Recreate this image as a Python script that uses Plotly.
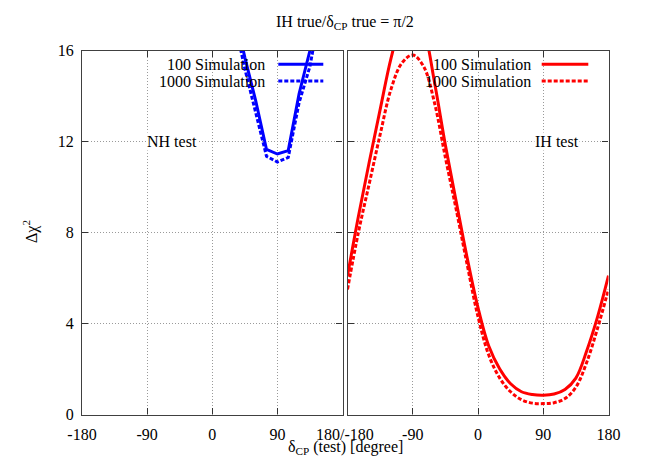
# IH true / delta_CP true = pi/2 -- NH test vs IH test, 100 vs 1000 simulations

import plotly.graph_objects as go

FONT = "Liberation Serif"

# NH test (left panel), delta_CP test grid in degrees
nh_delta = [0, 15, 30, 45, 60, 75, 90, 105, 120, 135, 150, 165, 180]
nh_100 = [22.5, 20.3, 17.9, 15.7, 13.8, 11.65, 11.45, 11.6, 14.1, 16.0, 18.3, 20.5, 22.5]
nh_1000 = [22.0, 19.8, 17.4, 15.2, 13.3, 11.35, 11.1, 11.3, 13.7, 15.3, 17.9, 20.0, 22.0]

# IH test (right panel)
ih_delta = [-180, -165, -150, -135, -120, -105, -90, -75, -60, -45, -30, -15,
            0, 15, 30, 45, 60, 75, 90, 105, 120, 135, 150, 165, 180]
ih_100 = [6.1, 8.7, 11.1, 13.4, 15.65, 17.3, 17.95, 17.0, 14.6, 11.85, 9.35, 6.9,
          4.7, 3.0, 2.0, 1.35, 1.0, 0.88, 0.85, 0.9, 1.1, 1.6, 2.8, 4.3, 6.1]
ih_1000 = [5.5, 8.0, 10.15, 12.3, 14.3, 15.45, 15.8, 15.3, 13.7, 11.3, 9.0, 6.6,
           4.3, 2.6, 1.6, 1.0, 0.65, 0.5, 0.48, 0.52, 0.7, 1.2, 2.3, 3.8, 5.5]

x_ticks = [-180, -90, 0, 90, 180]
left_ticktext = ["-180", "-90", "0", "90", " "]
right_ticktext = [" ", "-90", "0", "90", "180"]
y_ticks = [0, 4, 8, 12, 16]

BLUE = "#0000ff"
RED = "#ff0000"
DOT = "4px,2px"

fig = go.Figure()
fig.add_trace(go.Scatter(x=nh_delta, y=nh_100, mode="lines", xaxis="x", yaxis="y",
                         line=dict(color=BLUE, width=3), showlegend=False))
fig.add_trace(go.Scatter(x=nh_delta, y=nh_1000, mode="lines", xaxis="x", yaxis="y",
                         line=dict(color=BLUE, width=3, dash=DOT), showlegend=False))
fig.add_trace(go.Scatter(x=ih_delta, y=ih_100, mode="lines", xaxis="x2", yaxis="y2",
                         line=dict(color=RED, width=3, shape="spline"), showlegend=False))
fig.add_trace(go.Scatter(x=ih_delta, y=ih_1000, mode="lines", xaxis="x2", yaxis="y2",
                         line=dict(color=RED, width=3, dash=DOT, shape="spline"), showlegend=False))

ax_common = dict(
    range=[-180, 180], tickvals=x_ticks, ticks="inside", ticklen=6, tickcolor="#333333",
    showline=True, linecolor="#404040", linewidth=1.3, mirror="allticks", automargin=False,
    showgrid=True, gridcolor="#9a9a9a", griddash="1px,2px", gridwidth=1, ticklabelstandoff=5,
    zeroline=False, tickfont=dict(family=FONT, size=16, color="black"),
)
ay_common = dict(
    range=[0, 16], tickvals=y_ticks, ticks="inside", ticklen=6, tickcolor="#333333",
    showline=True, linecolor="#404040", linewidth=1.3, mirror="allticks", automargin=False,
    showgrid=True, gridcolor="#9a9a9a", griddash="1px,2px", gridwidth=1, ticklabelstandoff=4,
    zeroline=False, tickfont=dict(family=FONT, size=16, color="black"),
)

# the page body adds an 8 px offset; positions below are in window pixels
OFF = 8
W, H = 664 - 2 * OFF, 465 - 2 * OFF
px = lambda v: (v - OFF) / W
py = lambda v: 1 - (v - OFF) / H

fig.update_layout(
    width=W, height=H,
    margin=dict(l=0, r=0, t=0, b=0),
    paper_bgcolor="white", plot_bgcolor="white",
    font=dict(family=FONT, size=16, color="black"),
    showlegend=False,
    xaxis=dict(ax_common, domain=[px(82), px(342.5)], ticktext=left_ticktext, anchor="y"),
    xaxis2=dict(ax_common, domain=[px(347.5), px(608.5)], ticktext=right_ticktext, anchor="y2"),
    yaxis=dict(ay_common, domain=[py(414.5), py(50.5)], anchor="x"),
    yaxis2=dict(ay_common, domain=[py(414.5), py(50.5)], anchor="x2", showticklabels=False),
)

# key boxes hide the grid behind the legends, like gnuplot's opaque key
for x0, x1 in [(139, 342), (405, 607)]:
    fig.add_shape(type="rect", xref="paper", yref="paper", x0=px(x0), x1=px(x1),
                  y0=py(90), y1=py(52), fillcolor="white", line_width=0, layer="between")

# legend entries: text then sample line (gnuplot order)
legends = [(266.7, 278.3, 323.3, BLUE), (532.7, 541.7, 588.3, RED)]
for tx, lx0, lx1, col in legends:
    for label, ly, dash in [("100 Simulation", 64.3, "solid"), ("1000 Simulation", 81.0, DOT)]:
        fig.add_annotation(text=label, xref="paper", yref="paper", x=px(tx), y=py(ly),
                           xanchor="right", yanchor="middle", showarrow=False,
                           font=dict(family=FONT, size=16))
        fig.add_shape(type="line", xref="paper", yref="paper", x0=px(lx0), x1=px(lx1),
                      y0=py(ly), y1=py(ly), line=dict(color=col, width=3, dash=dash))

fig.add_annotation(text="NH test", x=-55, y=12, xref="x", yref="y", showarrow=False,
                   bgcolor="white", borderpad=0, font=dict(family=FONT, size=16))
fig.add_annotation(text="IH test", x=109, y=12, xref="x2", yref="y2", showarrow=False,
                   bgcolor="white", borderpad=0, font=dict(family=FONT, size=16))

fig.add_annotation(text="180/-180", xref="paper", yref="paper", x=px(345), y=py(434),
                   xanchor="center", yanchor="middle", showarrow=False,
                   font=dict(family=FONT, size=16))
fig.add_annotation(text="δ<sub>CP</sub> (test) [degree]", xref="paper", yref="paper",
                   x=px(345), y=py(447), xanchor="center", yanchor="middle", showarrow=False,
                   font=dict(family=FONT, size=16))
fig.add_annotation(text="Δχ<sup>2</sup>", xref="paper", yref="paper", x=px(30), y=py(232),
                   xanchor="center", yanchor="middle", showarrow=False, textangle=-90,
                   font=dict(family=FONT, size=16))
fig.add_annotation(text="IH true/δ<sub>CP</sub> true = π/2", xref="paper", yref="paper",
                   x=px(345), y=py(22), xanchor="center", yanchor="middle", showarrow=False,
                   font=dict(family=FONT, size=16))

fig.write_html("out.html")
